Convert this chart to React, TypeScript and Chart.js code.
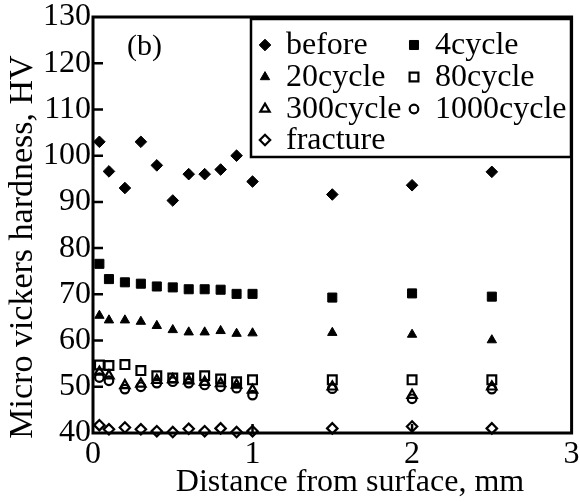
import React, { useEffect, useRef } from 'react';
import { Chart, registerables } from 'chart.js';
import { drawPoint } from 'chart.js/helpers';

Chart.register(...registerables);

// Distance from surface (mm)
const distances = [0.04, 0.1, 0.2, 0.3, 0.4, 0.5, 0.6, 0.7, 0.8, 0.9, 1.0, 1.5, 2.0, 2.5];

const before = [103, 96.6, 93, 103, 97.9, 90.3, 96, 96, 97, 100, 94.4, 91.6, 93.6, 96.5];
const cycle4 = [76.6, 73.3, 72.6, 72.3, 71.7, 71.5, 71.1, 71.1, 71.0, 70.1, 70.1, 69.3, 70.2, 69.5];
const cycle20 = [65.4, 64.4, 64.4, 64.1, 63.2, 62.3, 61.8, 61.8, 62.1, 61.5, 61.6, 61.7, 61.3, 60.1];
const cycle80 = [54.7, 54.6, 54.8, 53.5, 52.4, 51.9, 51.9, 52.4, 51.7, 51.1, 51.5, 51.5, 51.5, 51.5];
const cycle300 = [53.2, 52.4, 50.3, 50.6, 51.4, 51.6, 51.3, 51.0, 50.7, 50.4, 49.3, 50.0, 48.2, 50.0];
const cycle1000 = [52.0, 51.3, 49.5, 50.0, 50.8, 51.1, 50.8, 50.4, 50.0, 49.7, 48.2, 49.6, 47.4, 49.5];
const fracture = [41.7, 40.8, 41.2, 40.8, 40.4, 40.2, 40.9, 40.4, 41.0, 40.2, 40.4, 41.0, 41.4, 41.0];

const seriesLabels = ['before', '4cycle', '20cycle', '80cycle', '300cycle', '1000cycle', 'fracture'];

const xTicks = [0, 1, 2, 3];
const yTicks = [40, 50, 60, 70, 80, 90, 100, 110, 120, 130];

const xTitle = 'Distance from surface, mm';
const yTitle = 'Micro vickers hardness, HV';
const panelLabel = '(b)';

const FONT = '"Liberation Serif", "Times New Roman", serif';

type Style = { pointStyle: any; radius: number; filled: boolean };
const styles: Style[] = [
  { pointStyle: 'rectRot', radius: 5.8, filled: true },
  { pointStyle: 'rect', radius: 6.4, filled: true },
  { pointStyle: 'triangle', radius: 5.4, filled: true },
  { pointStyle: 'rect', radius: 6.2, filled: false },
  { pointStyle: 'triangle', radius: 5.4, filled: false },
  { pointStyle: 'circle', radius: 4.3, filled: false },
  { pointStyle: 'rectRot', radius: 5.2, filled: false },
];

const allSeries = [before, cycle4, cycle20, cycle80, cycle300, cycle1000, fracture];

const framePlugin = {
  id: 'frameAndDecor',
  afterDraw(chart: any) {
    const { ctx, chartArea } = chart;
    const { left, right, top, bottom } = chartArea;
    const xs = chart.scales.x;
    const ys = chart.scales.y;
    ctx.save();
    ctx.strokeStyle = '#000';
    // inward ticks
    ctx.lineWidth = 2.5;
    ctx.beginPath();
    yTicks.forEach((v) => {
      if (v === 40 || v === 130) return;
      const py = ys.getPixelForValue(v);
      ctx.moveTo(left, py);
      ctx.lineTo(left + 10, py);
    });
    xTicks.forEach((v) => {
      if (v === 0 || v === 3) return;
      const px = xs.getPixelForValue(v);
      ctx.moveTo(px, bottom);
      ctx.lineTo(px, bottom - 9);
    });
    ctx.stroke();
    // frame
    ctx.lineWidth = 3;
    ctx.strokeRect(left, top, right - left, bottom - top);

    // panel label
    ctx.fillStyle = '#000';
    ctx.font = `30px ${FONT}`;
    ctx.textAlign = 'left';
    ctx.textBaseline = 'middle';
    ctx.fillText(panelLabel, 127, 47);

    // legend box
    const bx = 251, by = 19, bw = 320, bh = 138;
    ctx.lineWidth = 2.5;
    ctx.strokeRect(bx, by, bw, bh);
    const rowsY = [45, 77, 109, 140];
    const colMarkX = [265, 414];
    const colTextX = [286, 435];
    ctx.font = `32px ${FONT}`;
    chart.data.datasets.forEach((ds: any, i: number) => {
      const row = Math.floor(i / 2);
      const col = i % 2;
      const st = styles[i];
      const my = rowsY[row];
      ctx.save();
      ctx.fillStyle = st.filled ? '#000' : '#fff';
      ctx.strokeStyle = '#000';
      ctx.lineWidth = st.filled ? 1 : 2.2;
      drawPoint(ctx, { pointStyle: st.pointStyle, radius: st.radius, borderWidth: ctx.lineWidth, rotation: 0 } as any, colMarkX[col], my);
      ctx.restore();
      ctx.fillStyle = '#000';
      ctx.textAlign = 'left';
      ctx.textBaseline = 'middle';
      ctx.fillText(ds.label, colTextX[col], my + 1);
    });

    // axis titles
    ctx.font = `32px ${FONT}`;
    ctx.textAlign = 'center';
    ctx.textBaseline = 'middle';
    ctx.fillText(xTitle, 350, 483);
    ctx.save();
    ctx.font = `34px ${FONT}`;
    ctx.translate(23, 247);
    ctx.rotate(-Math.PI / 2);
    ctx.fillText(yTitle, 0, 0);
    ctx.restore();
    ctx.restore();
  },
};

export default function App() {
  const ref = useRef<HTMLCanvasElement | null>(null);
  useEffect(() => {
    document.body.style.margin = '0';
    const canvas = ref.current;
    if (!canvas) return;
    const datasets = allSeries.map((vals, i) => ({
      label: seriesLabels[i],
      data: distances.map((x, k) => ({ x, y: vals[k] })),
      pointStyle: styles[i].pointStyle,
      pointRadius: styles[i].radius,
      pointHoverRadius: styles[i].radius,
      pointBorderWidth: styles[i].filled ? 1 : 2.2,
      backgroundColor: styles[i].filled ? '#000' : 'rgba(0,0,0,0)',
      borderColor: '#000',
      showLine: false,
      clip: false as any,
    }));
    const chart = new Chart(canvas, {
      type: 'scatter',
      data: { datasets },
      plugins: [framePlugin],
      options: {
        responsive: false,
        animation: false,
        devicePixelRatio: 1,
        layout: { padding: { top: 17, right: 3, left: 0, bottom: 0 } },
        plugins: { legend: { display: false }, tooltip: { enabled: false } },
        scales: {
          x: {
            type: 'linear',
            min: 0,
            max: 3,
            afterBuildTicks: (s: any) => { s.ticks = xTicks.map((v) => ({ value: v })); },
            ticks: { color: '#000', font: { family: FONT, size: 32 }, padding: 2 },
            grid: { display: false, drawTicks: false },
            border: { display: false },
            afterFit: (s: any) => { s.height = 69; s.paddingLeft = 0; s.paddingRight = 0; },
          },
          y: {
            type: 'linear',
            min: 40,
            max: 130,
            afterBuildTicks: (s: any) => { s.ticks = yTicks.map((v) => ({ value: v })); },
            ticks: { color: '#000', font: { family: FONT, size: 32 }, padding: 2 },
            grid: { display: false, drawTicks: false },
            border: { display: false },
            afterFit: (s: any) => { s.width = 93; s.paddingTop = 0; s.paddingBottom = 0; },
          },
        },
      },
    });
    return () => chart.destroy();
  }, []);
  return <canvas ref={ref} width={580} height={502} style={{ display: 'block', width: 580, height: 502 }} />;
}
